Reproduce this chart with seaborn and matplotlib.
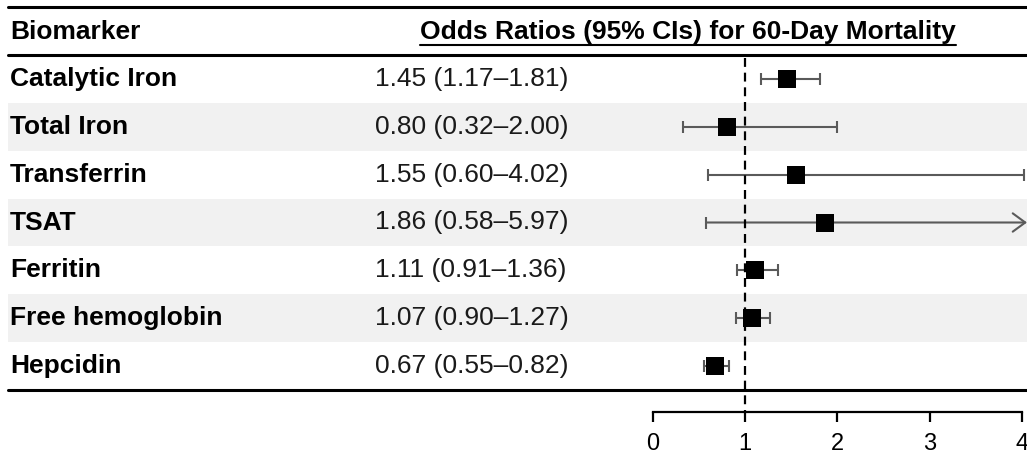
import matplotlib
matplotlib.use("Agg")
import matplotlib.pyplot as plt
from matplotlib.lines import Line2D
from matplotlib.patches import Rectangle, FancyArrowPatch
from matplotlib.transforms import blended_transform_factory
import seaborn as sns
import pandas as pd

# ---- data ----
biomarkers = ["Catalytic Iron", "Total Iron", "Transferrin", "TSAT",
              "Ferritin", "Free hemoglobin", "Hepcidin"]
odds = [1.45, 0.80, 1.55, 1.86, 1.11, 1.07, 0.67]
lower = [1.17, 0.32, 0.60, 0.58, 0.91, 0.90, 0.55]
upper = [1.81, 2.00, 4.02, 5.97, 1.36, 1.27, 0.82]
x_ticks = [0, 1, 2, 3, 4]
header_left = "Biomarker"
header_right = "Odds Ratios (95% CIs) for 60-Day Mortality"

df = pd.DataFrame({"biomarker": biomarkers, "or": odds, "lo": lower, "hi": upper})
df["pos"] = range(len(df))

sns.set_theme(style="white")
plt.rcParams["font.family"] = ["Liberation Sans", "DejaVu Sans"]
plt.rcParams["text.color"] = "black"

W, H = 1027, 457
fig = plt.figure(figsize=(W / 100, H / 100), dpi=100)
PT = 72 / 100  # points per pixel


def fx(px):
    return px / W


def fy(py):
    return 1 - py / H


XMAX = 4.055
ax = fig.add_axes([fx(653), fy(390), fx(1027) - fx(653), fy(55) - fy(390)])
ax.set_xlim(0, XMAX)
n = len(df)
ax.set_ylim(n - 0.5, -0.5)
ax.patch.set_alpha(0)

fig_x_data_y = blended_transform_factory(fig.transFigure, ax.transData)

# row shading
for i in range(n):
    if i % 2 == 1:
        fig.add_artist(Rectangle((fx(8), i - 0.5), fx(1027) - fx(8), 1.0,
                                 transform=fig_x_data_y, facecolor="#f1f1f1",
                                 edgecolor="none", zorder=0))

ci_color = "#5a5a5a"
# confidence intervals
for _, r in df.iterrows():
    if r["hi"] > XMAX:
        arr = FancyArrowPatch((r["lo"], r["pos"]), (XMAX, r["pos"]),
                              arrowstyle="->,head_length=0.45,head_width=0.33",
                              mutation_scale=20, color=ci_color, lw=1.5,
                              shrinkA=0, shrinkB=0, clip_on=False, zorder=2)
        ax.add_patch(arr)
        caps = [r["lo"]]
    else:
        ax.hlines(r["pos"], r["lo"], r["hi"], color=ci_color, lw=1.5, zorder=2,
                  clip_on=False)
        caps = [r["lo"], r["hi"]]
    ax.plot(caps, [r["pos"]] * len(caps), ls="none", marker="|",
            markersize=12 * PT, mew=1.5, color=ci_color, zorder=2, clip_on=False)

# point estimates
sns.scatterplot(data=df, x="or", y="pos", marker="s", s=(18 * PT) ** 2,
                color="black", edgecolor="black", linewidth=0, ax=ax,
                zorder=3, clip_on=False, legend=False)

# reference line at 1
ax.plot([1, 1], [fy(58), fy(412)],
        transform=blended_transform_factory(ax.transData, fig.transFigure),
        color="black", lw=1.6, ls=(0, (4, 2.6)), zorder=4, clip_on=False)

# axis styling
for s in ["top", "right", "left"]:
    ax.spines[s].set_visible(False)
ax.spines["bottom"].set_position(("outward", 22 * PT))
ax.spines["bottom"].set_bounds(0, 4)
ax.spines["bottom"].set_linewidth(1.6)
ax.spines["bottom"].set_color("black")
ax.set_xticks(x_ticks)
ax.set_xticklabels([str(t) for t in x_ticks])
ax.tick_params(axis="x", direction="out", length=10 * PT, width=1.6,
               color="black", pad=8, labelsize=17, labelcolor="black", bottom=True)
ax.set_yticks([])
ax.set_xlabel("")
ax.set_ylabel("")

# text columns
for _, r in df.iterrows():
    fig.text(fx(10), r["pos"], r["biomarker"], transform=fig_x_data_y, fontsize=19,
             fontweight="bold", va="center", ha="left", color="black")
    fig.text(fx(375), r["pos"], f"{r['or']:.2f} ({r['lo']:.2f}\u2013{r['hi']:.2f})",
             transform=fig_x_data_y, fontsize=19, va="center", ha="left",
             color="#1a1a1a")

fig.text(fx(10), fy(32), header_left, fontsize=19, fontweight="bold",
         va="center", ha="left", color="black")
title = fig.text(fx(688), fy(32), header_right, fontsize=19, fontweight="bold",
                 va="center", ha="center", color="black")
fig.canvas.draw()
bb = title.get_window_extent()
fig.add_artist(Line2D([bb.x0 / W, bb.x1 / W], [fy(45), fy(45)],
                      transform=fig.transFigure, color="black", lw=1.5))

# horizontal rules
for py in [7, 55, 390]:
    fig.add_artist(Line2D([fx(8), 1], [fy(py), fy(py)], transform=fig.transFigure,
                          color="black", lw=2.2, zorder=5))

fig.savefig("out.png", dpi=100)
